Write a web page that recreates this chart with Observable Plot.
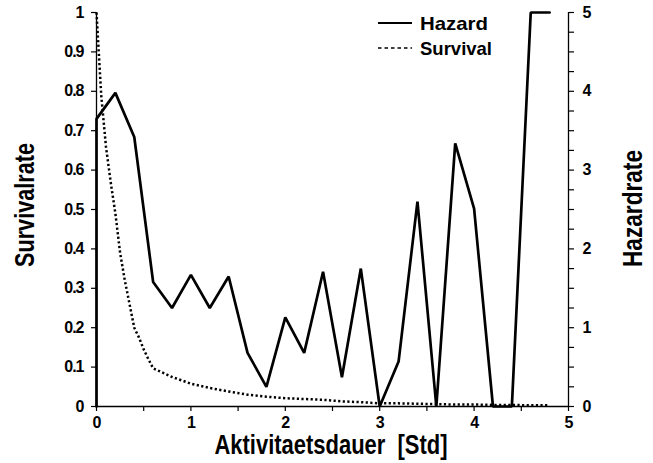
<!DOCTYPE html>
<html><head><meta charset="utf-8">
<script src="https://cdn.jsdelivr.net/npm/d3@7"></script>
<script src="https://cdn.jsdelivr.net/npm/@observablehq/plot@0.6"></script>
<style>
html,body{margin:0;padding:0;background:#fff;}
#wrap{position:relative;width:653px;height:463px;overflow:hidden;}
#legend{position:absolute;left:0;top:0;pointer-events:none;}
</style></head><body><div id="wrap"></div>
<script>
// ---- data ----
const hazardTime = [0, 0, 0.2, 0.4, 0.6, 0.8, 1.0, 1.2, 1.4, 1.6, 1.8, 2.0, 2.2, 2.4, 2.6, 2.8, 3.0, 3.2, 3.4, 3.6, 3.8, 4.0, 4.2, 4.4, 4.6, 4.8];
const hazardRate = [0, 3.65, 3.98, 3.42, 1.58, 1.25, 1.67, 1.25, 1.65, 0.68, 0.25, 1.13, 0.68, 1.71, 0.37, 1.75, 0, 0.57, 2.6, 0, 3.34, 2.51, 0, 0, 5, 5];
const survivalTime = [0, 0.05, 0.1, 0.15, 0.2, 0.25, 0.3, 0.35, 0.4, 0.45, 0.5, 0.55, 0.6, 0.8, 1.0, 1.2, 1.4, 1.6, 1.8, 2.0, 2.2, 2.4, 2.6, 2.8, 3.0, 3.2, 3.4, 3.6, 3.8, 4.0, 4.2, 4.4, 4.6, 4.8];
const survivalRate = [1.0, 0.79, 0.66, 0.57, 0.49, 0.39, 0.32, 0.26, 0.20, 0.175, 0.145, 0.12, 0.097, 0.075, 0.058, 0.047, 0.038, 0.030, 0.025, 0.021, 0.019, 0.017, 0.013, 0.011, 0.008, 0.008, 0.007, 0.006, 0.005, 0.005, 0.004, 0.004, 0.003, 0.003];

const xTicks = [0, 0.5, 1, 1.5, 2, 2.5, 3, 3.5, 4, 4.5, 5];
const xTickLabels = ["0", "", "1", "", "2", "", "3", "", "4", "", "5"];
const leftTicks = [0, 0.1, 0.2, 0.3, 0.4, 0.5, 0.6, 0.7, 0.8, 0.9, 1];
const leftTickLabels = ["0", "0.1", "0.2", "0.3", "0.4", "0.5", "0.6", "0.7", "0.8", "0.9", "1"];
const rightTicks = [0, 0.25, 0.5, 0.75, 1, 1.25, 1.5, 1.75, 2, 2.25, 2.5, 2.75, 3, 3.25, 3.5, 3.75, 4, 4.25, 4.5, 4.75, 5];
const rightTickLabels = ["0", "", "", "", "1", "", "", "", "2", "", "", "", "3", "", "", "", "4", "", "", "", "5"];
const hazardMax = 5;

const xTitle = "Aktivitaetsdauer  [Std]";
const yLeftTitle = "Survivalrate";
const yRightTitle = "Hazardrate";
const legendItems = ["Hazard", "Survival"];

// ---- build ----
const hazard = hazardTime.map((t, i) => ({t, v: hazardRate[i] / hazardMax}));
const survival = survivalTime.map((t, i) => ({t, v: survivalRate[i]}));
const lookup = (ticks, labels) => d => { const i = ticks.findIndex(v => Math.abs(v - d) < 1e-9); return i < 0 ? "" : labels[i]; };

const FONT = "'Liberation Sans', Arial, Helvetica, sans-serif";

const chart = Plot.plot({
  width: 653, height: 463,
  marginLeft: 96, marginRight: 85, marginTop: 12, marginBottom: 57,
  style: {fontFamily: FONT, fontSize: "16px", fontWeight: "bold", background: "#fff", color: "#000", overflow: "visible"},
  x: {domain: [0, 5]},
  y: {domain: [0, 1]},
  marks: [
    Plot.axisX({ticks: xTicks, tickFormat: lookup(xTicks, xTickLabels), tickSize: 5, tickPadding: 5, label: null, stroke: "#000", strokeWidth: 1.2}),
    Plot.axisY({ticks: leftTicks, tickFormat: lookup(leftTicks, leftTickLabels), tickSize: 5, tickPadding: 8, label: null, stroke: "#000", strokeWidth: 1.2}),
    Plot.axisY({anchor: "right", ticks: rightTicks.map(v => v / hazardMax), tickFormat: lookup(rightTicks.map(v => v / hazardMax), rightTickLabels), tickSize: 5, tickPadding: 9, label: null, stroke: "#000", strokeWidth: 1.2}),
    Plot.ruleX([0], {stroke: "#000", strokeWidth: 1.3}),
    Plot.ruleX([5], {stroke: "#000", strokeWidth: 1.3}),
    Plot.ruleY([0], {stroke: "#000", strokeWidth: 1.6}),
    Plot.line(survival, {x: "t", y: "v", stroke: "#000", strokeWidth: 2.5, strokeDasharray: "2.2,2.4", strokeLinecap: "butt"}),
    Plot.line(hazard, {x: "t", y: "v", stroke: "#000", strokeWidth: 2.7, strokeLinejoin: "miter"})
  ]
});
const cs = d3.select(chart);
cs.selectAll("text").attr("font-size", null).style("font-size", "16px").style("font-weight", "bold").style("letter-spacing", "-1px");

const wrap = document.getElementById("wrap");
wrap.appendChild(chart);

// overlay: axis titles and legend
const lg = d3.select(wrap).append("svg").attr("id", "legend").attr("width", 653).attr("height", 463)
  .attr("font-family", FONT).attr("fill", "#000");
lg.append("text").attr("x", 331).attr("y", 454).attr("text-anchor", "middle")
  .attr("font-size", 27).attr("font-weight", "bold")
  .attr("textLength", 233).attr("lengthAdjust", "spacingAndGlyphs").style("white-space", "pre").text(xTitle);
lg.append("text").attr("transform", "translate(33.5,205) rotate(-90)").attr("text-anchor", "middle")
  .attr("font-size", 28).attr("font-weight", "bold")
  .attr("textLength", 124).attr("lengthAdjust", "spacingAndGlyphs").text(yLeftTitle);
lg.append("text").attr("transform", "translate(641.5,208.5) rotate(-90)").attr("text-anchor", "middle")
  .attr("font-size", 28).attr("font-weight", "bold")
  .attr("textLength", 117).attr("lengthAdjust", "spacingAndGlyphs").text(yRightTitle);

const rows = [{y: 23, dash: null, w: 2, len: 68}, {y: 48, dash: "3.5,3", w: 1.6, len: 72}];
legendItems.forEach((name, i) => {
  lg.append("line").attr("x1", 378).attr("x2", 412).attr("y1", rows[i].y).attr("y2", rows[i].y)
    .attr("stroke", "#000").attr("stroke-width", rows[i].w).attr("stroke-dasharray", rows[i].dash);
  lg.append("text").attr("x", 420).attr("y", rows[i].y + 7).text(name)
    .attr("font-size", 19).attr("font-weight", "bold")
    .attr("textLength", rows[i].len).attr("lengthAdjust", "spacingAndGlyphs");
});
</script></body></html>
